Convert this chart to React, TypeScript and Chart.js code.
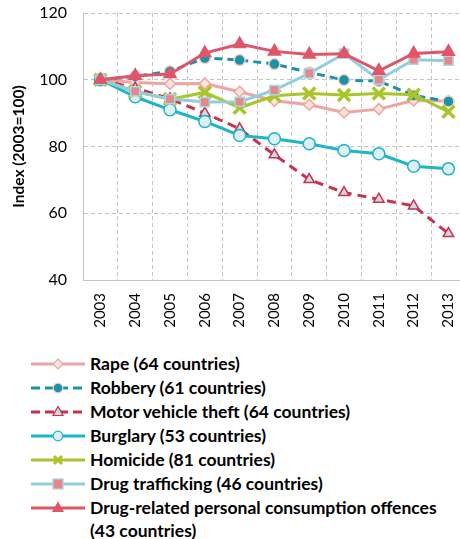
import React, { useEffect, useRef } from "react";
import { Chart, registerables } from "chart.js";

Chart.register(...registerables);

const years = ["2003", "2004", "2005", "2006", "2007", "2008", "2009", "2010", "2011", "2012", "2013"];
const yTicks = [40, 60, 80, 100, 120];

const rape = [100, 99.2, 98.8, 98.9, 96.4, 93.7, 92.5, 90.2, 91.2, 93.8, 93.6];
const robbery = [100, 101, 102.5, 106.5, 105.9, 104.7, 102.2, 99.9, 99.6, 95.3, 93.5];
const motorVehicle = [100, 97.5, 94.3, 90, 85.3, 77.5, 70.1, 66.2, 64.2, 62.2, 53.9];
const burglary = [100, 94.9, 91, 87.5, 83.3, 82.3, 80.8, 78.8, 77.8, 74.1, 73.3];
const homicide = [100, 96.5, 94.2, 96.2, 91.6, 95.2, 95.9, 95.4, 95.9, 95.5, 90.4];
const trafficking = [100, 96.5, 94.2, 93.3, 93.4, 96.9, 101.9, 107.8, 100, 106, 105.7];
const drugConsumption = [100, 101.2, 101.7, 108, 110.7, 108.5, 107.6, 107.8, 102.7, 107.9, 108.4];

const seriesLabels = [
  "Rape (64 countries)",
  "Robbery (61 countries)",
  "Motor vehicle theft (64 countries)",
  "Burglary (53 countries)",
  "Homicide (81 countries)",
  "Drug trafficking (46 countries)",
  "Drug-related personal consumption offences (43 countries)",
];

type Style = {
  line: string;
  dash: number[];
  point: string;
  fill: string;
  border: string;
  radius: number;
  borderW: number;
};

const styles: Style[] = [
  { line: "#F0A3A3", dash: [], point: "rectRot", fill: "#FCE6DA", border: "#F0A3A3", radius: 5.5, borderW: 1.5 },
  { line: "#1A93A7", dash: [8, 5], point: "circle", fill: "#1A93A7", border: "#F2CFC8", radius: 5.5, borderW: 1.5 },
  { line: "#C9324F", dash: [9, 6], point: "triangle", fill: "#C9DCE5", border: "#C9324F", radius: 6, borderW: 1.5 },
  { line: "#1FB5C9", dash: [], point: "circle", fill: "#DDF0F5", border: "#1FB5C9", radius: 6, borderW: 1.5 },
  { line: "#A8C62A", dash: [], point: "crossRot", fill: "#A8C62A", border: "#A8C62A", radius: 8.5, borderW: 3.5 },
  { line: "#93CDE0", dash: [], point: "rect", fill: "#E8878A", border: "#A9D6E6", radius: 6.5, borderW: 1.5 },
  { line: "#E05568", dash: [], point: "triangle", fill: "#E05568", border: "#E05568", radius: 7, borderW: 1.5 },
];

const seriesData = [rape, robbery, motorVehicle, burglary, homicide, trafficking, drugConsumption];

function Marker({ s }: { s: Style }) {
  const cx = 27;
  const cy = 8;
  const stroke = s.border;
  switch (s.point) {
    case "rectRot":
      return <polygon points={`${cx},${cy - 5} ${cx + 5},${cy} ${cx},${cy + 5} ${cx - 5},${cy}`} fill={s.fill} stroke={stroke} strokeWidth={1.2} />;
    case "circle":
      return <circle cx={cx} cy={cy} r={4.8} fill={s.fill} stroke={stroke} strokeWidth={1.2} />;
    case "triangle":
      return <polygon points={`${cx},${cy - 5.5} ${cx + 5},${cy + 3.5} ${cx - 5},${cy + 3.5}`} fill={s.fill} stroke={stroke} strokeWidth={1.2} />;
    case "crossRot":
      return (
        <g stroke={stroke} strokeWidth={3}>
          <line x1={cx - 4} y1={cy - 4} x2={cx + 4} y2={cy + 4} />
          <line x1={cx - 4} y1={cy + 4} x2={cx + 4} y2={cy - 4} />
        </g>
      );
    case "rect":
      return <rect x={cx - 5} y={cy - 5} width={10} height={10} fill={s.fill} stroke={stroke} strokeWidth={1.2} />;
  }
  return null;
}

export default function App() {
  const ref = useRef<HTMLCanvasElement | null>(null);

  useEffect(() => {
    if (!ref.current) return;
    const gridDash = [4, 3];
    const chart = new Chart(ref.current, {
      type: "line",
      data: {
        labels: years,
        datasets: seriesData.map((d, i) => {
          const s = styles[i];
          return {
            label: seriesLabels[i],
            data: d,
            borderColor: s.line,
            borderWidth: 3,
            borderDash: s.dash,
            pointStyle: s.point as any,
            pointBackgroundColor: s.fill,
            pointBorderColor: s.border,
            pointBorderWidth: s.borderW,
            pointRadius: s.radius,
            tension: 0,
            fill: false,
            order: 6 - i,
          };
        }),
      },
      options: {
        animation: false,
        responsive: true,
        maintainAspectRatio: false,
        layout: { padding: { top: 0, right: 12, left: 0, bottom: 0 } },
        plugins: { legend: { display: false }, tooltip: { enabled: false } },
        scales: {
          x: {
            offset: true,
            grid: {
              offset: true,
              color: "#C4C4C4",
              lineWidth: 1,
              drawTicks: false,
              borderDash: gridDash,
              dash: gridDash,
            },
            border: { display: true, color: "#C4C4C4", dash: gridDash },
            ticks: {
              autoSkip: false,
              minRotation: 90,
              maxRotation: 90,
              padding: 13,
              color: "#000",
              font: { family: "Lato", size: 15 },
            },
            afterFit: (s: any) => {
              s.height = 60;
            },
          },
          y: {
            min: 40,
            max: 120,
            afterBuildTicks: (s: any) => {
              s.ticks = yTicks.map((v) => ({ value: v }));
            },
            grid: { color: "#C4C4C4", drawTicks: false, borderDash: gridDash, dash: gridDash },
            border: { display: true, color: "#C4C4C4", dash: gridDash },
            ticks: {
              padding: 16,
              color: "#000",
              font: { family: "Lato", size: 16 },
            },
            title: {
              display: true,
              text: "Index (2003=100)",
              color: "#000",
              padding: { top: 10, bottom: 0 },
              font: { family: "Lato", size: 15.5, weight: "bold" },
            },
            afterFit: (s: any) => {
              s.width = 83;
              s.paddingTop = 13;
            },
          },
        },
      },
    } as any);
    return () => chart.destroy();
  }, []);

  return (
    <div style={{ position: "absolute", left: 0, top: 0, width: 460, height: 539, overflow: "hidden", background: "#fff" }}>
      <div style={{ position: "absolute", left: 0, top: 0, width: 480, height: 340 }}>
        <canvas ref={ref} />
      </div>
      <div style={{ position: "absolute", left: 31, top: 352, fontFamily: "Lato", fontWeight: 700, fontSize: 17.5, color: "#000" }}>
        {seriesLabels.map((lab, i) => {
          const s = styles[i];
          return (
            <div key={i} style={{ display: "flex", alignItems: "flex-start", height: 24 }}>
              <svg width={54} height={16} style={{ flex: "none", marginTop: 4 }}>
                <line x1={0} y1={8} x2={54} y2={8} stroke={s.line} strokeWidth={3} strokeDasharray={s.dash.length ? "9 5" : undefined} />
                <Marker s={s} />
              </svg>
              <div style={{ marginLeft: 5, width: 360, lineHeight: "23px" }}>{lab}</div>
            </div>
          );
        })}
      </div>
    </div>
  );
}
